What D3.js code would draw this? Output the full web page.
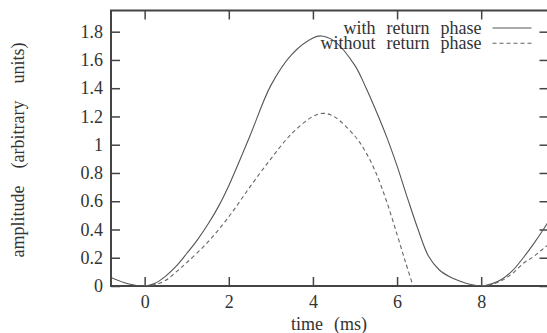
<!DOCTYPE html>
<html>
<head>
<meta charset="utf-8">
<script src="https://cdn.jsdelivr.net/npm/d3@7"></script>
<style>
  body { margin: 0; background: #fff; }
  text { font-family: "Liberation Serif", "DejaVu Serif", serif; fill: #333; white-space: pre; }
</style>
</head>
<body>
<svg id="fig"></svg>
<script>
var w_fig = 547; // SVG canvas size
var h_fig = 333;

// Glottal flow (time in ms, amplitude in arbitrary units)
var withTime = [-0.8, -0.5, -0.25, 0, 0.25, 0.5, 0.75, 1.0, 1.25, 1.5, 1.75, 2.0, 2.5, 3.0, 3.5, 4.0, 4.2, 4.5, 5.0, 5.25, 5.5, 5.75, 6.0, 6.25, 6.5, 6.75, 7.0, 7.25, 7.5, 7.75, 8.0, 8.25, 8.5, 8.75, 9.0, 9.25, 9.5, 9.75];
var withValue = [0.06, 0.025, 0.007, 0, 0.02, 0.07, 0.14, 0.23, 0.325, 0.435, 0.56, 0.71, 1.06, 1.42, 1.64, 1.755, 1.77, 1.735, 1.56, 1.41, 1.24, 1.057, 0.85, 0.62, 0.4, 0.21, 0.115, 0.065, 0.033, 0.01, 0, 0.015, 0.05, 0.11, 0.2, 0.3, 0.41, 0.53];

var withoutTime = [0, 0.25, 0.5, 0.75, 1.0, 1.5, 2.0, 2.5, 3.0, 3.5, 4.0, 4.25, 4.5, 5.0, 5.25, 5.5, 5.75, 6.0, 6.2, 6.38, 7.2, 8.0, 8.25, 8.5, 8.75, 9.0, 9.25, 9.5, 9.75];
var withoutValue = [0, 0.01, 0.04, 0.1, 0.165, 0.31, 0.49, 0.7, 0.9, 1.08, 1.2, 1.222, 1.2, 1.06, 0.95, 0.8, 0.6, 0.365, 0.17, 0, null, 0, 0.01, 0.04, 0.09, 0.16, 0.21, 0.27, 0.33];

var xTicks = [0, 2, 4, 6, 8];
var yTicks = [0, 0.2, 0.4, 0.6, 0.8, 1, 1.2, 1.4, 1.6, 1.8];
var legendLabels = ["with  return  phase", "without  return  phase"];

// Plot frame (right edge sits just outside the canvas)
var p_left = 111, p_right = 548.5, p_top = 10.5, p_bottom = 286;
var tick_len = 9;

var x = d3.scaleLinear().domain([-0.8, 9.6]).range([p_left, p_right]);
var y = d3.scaleLinear().domain([0, 1.95]).range([p_bottom, p_top]);

var svg = d3.select("#fig").attr("width", w_fig).attr("height", h_fig);

svg.append("clipPath").attr("id", "clip")
  .append("rect").attr("x", p_left).attr("y", p_top)
  .attr("width", p_right - p_left).attr("height", p_bottom - p_top);

// Axes with inward ticks on all four sides
function styleAxis(g) {
  g.select(".domain").remove();
  g.selectAll(".tick line").attr("stroke", "#444").attr("stroke-width", 1.5);
  g.selectAll(".tick text").style("font-size", "18px").attr("fill", "#333")
    .attr("font-family", "Liberation Serif, serif");
}

svg.append("g").attr("transform", "translate(0," + p_bottom + ")")
  .call(d3.axisBottom(x).tickValues(xTicks).tickSize(-tick_len).tickPadding(9).tickFormat(function(d) { return d; }))
  .call(styleAxis);
svg.append("g").attr("transform", "translate(0," + p_top + ")")
  .call(d3.axisTop(x).tickValues(xTicks).tickSize(-tick_len).tickFormat(""))
  .call(styleAxis);
svg.append("g").attr("transform", "translate(" + p_left + ",0)")
  .call(d3.axisLeft(y).tickValues(yTicks).tickSize(-tick_len).tickPadding(8).tickFormat(function(d) { return d; }))
  .call(styleAxis);
svg.append("g").attr("transform", "translate(" + p_right + ",0)")
  .call(d3.axisRight(y).tickValues(yTicks).tickSize(-tick_len).tickFormat(""))
  .call(styleAxis);

svg.append("rect")
  .attr("x", p_left).attr("y", p_top)
  .attr("width", p_right - p_left).attr("height", p_bottom - p_top)
  .attr("fill", "none").attr("stroke", "#444").attr("stroke-width", 2);

// Curves
var line = d3.line()
  .defined(function(d) { return d[1] !== null; })
  .x(function(d) { return x(d[0]); })
  .y(function(d) { return y(d[1]); })
  .curve(d3.curveCatmullRom.alpha(0.5));

var curves = svg.append("g").attr("clip-path", "url(#clip)");
curves.append("path")
  .datum(d3.zip(withTime, withValue))
  .attr("d", line)
  .attr("fill", "none").attr("stroke", "#555").attr("stroke-width", 1.1);
curves.append("path")
  .datum(d3.zip(withoutTime, withoutValue))
  .attr("d", line)
  .attr("fill", "none").attr("stroke", "#666").attr("stroke-width", 1.1)
  .attr("stroke-dasharray", "4,3");

// Legend
var legend = svg.append("g");
legendLabels.forEach(function(lab, i) {
  var ly = 28 + i * 15.3;
  legend.append("text")
    .attr("x", 481.5).attr("y", ly + 5.5)
    .attr("text-anchor", "end")
    .style("font-size", "18px").style("word-spacing", "1px")
    .text(lab);
  legend.append("line")
    .attr("x1", 492.5).attr("x2", 531.5)
    .attr("y1", ly).attr("y2", ly)
    .attr("stroke", i == 0 ? "#555" : "#666").attr("stroke-width", 1.1)
    .attr("stroke-dasharray", i == 0 ? null : "4,3");
});

// Axis titles
svg.append("text")
  .attr("x", 329).attr("y", 330)
  .attr("text-anchor", "middle")
  .style("font-size", "18px").style("word-spacing", "1px")
  .text("time  (ms)");
svg.append("text")
  .attr("transform", "translate(24,150) rotate(-90)")
  .attr("text-anchor", "middle")
  .style("font-size", "18px").style("word-spacing", "4px")
  .text("amplitude  (arbitrary  units)");
</script>
</body>
</html>
